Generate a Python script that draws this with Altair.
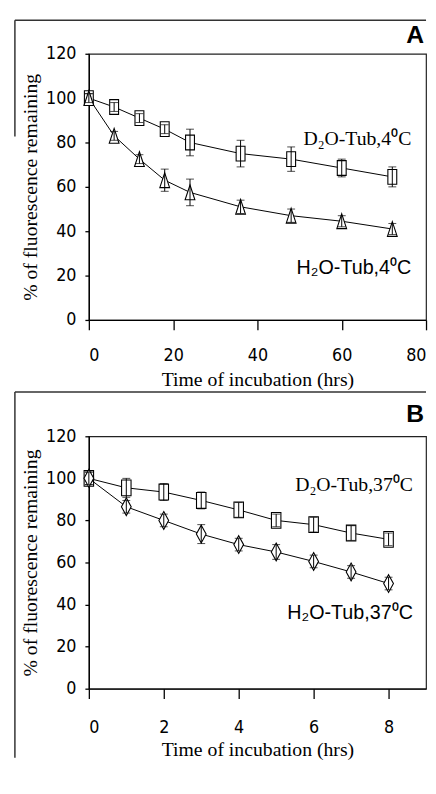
import altair as alt
import pandas as pd

# ---------------- data ----------------
a_time = [0, 6, 12, 18, 24, 36, 48, 60, 72]
a_d2o = [100, 96, 91, 86, 80, 75, 72.5, 68.5, 64.5]
a_d2o_err = [2, 2, 2, 2, 6, 6, 5.5, 4, 4.5]
a_h2o = [100, 83, 72.5, 63, 57.5, 51, 47, 44.5, 41]
a_h2o_err = [2, 2, 2, 5, 6, 3, 3, 2.5, 2.5]

b_time = [0, 1, 2, 3, 4, 5, 6, 7, 8]
b_d2o = [100, 95.5, 93.5, 89.5, 85, 80, 78, 74, 71]
b_d2o_err = [3, 4.5, 4, 4, 3.5, 3, 3.5, 3.5, 3]
b_h2o = [100, 86.5, 80, 73.5, 68.5, 65, 60.5, 55.5, 50]
b_h2o_err = [3, 3, 3, 4.5, 3, 3.5, 3, 3, 3]

y_ticks = [0, 20, 40, 60, 80, 100, 120]
a_x_ticks = [0, 20, 40, 60, 80]
b_x_ticks = [0, 2, 4, 6, 8]

a_label_serif = {"text": "D₂O-Tub,4⁰C", "t": 76.5, "v": 79}
a_label_sans = {"text": "H₂O-Tub,4⁰C", "t": 76.5, "v": 20.5}
b_label_serif = {"text": "D₂O-Tub,37⁰C", "t": 8.65, "v": 94}
b_label_sans = {"text": "H₂O-Tub,37⁰C", "t": 8.65, "v": 33}

SQUARE = "M-0.6,-1H0.6V1H-0.6Z"
TRIANGLE = "M0,-1L0.66,1L-0.66,1Z"
DIAMOND = "M0,-1L0.55,0L0,1L-0.55,0Z"

NARROW = "Liberation Sans Narrow, Arial Narrow, DejaVu Sans Condensed, Liberation Sans, sans-serif"
SERIF = "Liberation Serif, Times New Roman, serif"
SANS = "Liberation Sans, Arial, sans-serif"


def frame(t, v, e):
    return pd.DataFrame({
        "t": t, "v": v,
        "lo": [a - b for a, b in zip(v, e)],
        "hi": [a + b for a, b in zip(v, e)],
    })


def panel(t, d2o, d2o_e, h2o, h2o_e, xdom, xticks, w, h, lab_pad, title_pad,
          sq_size, h2o_shape, h2o_size, lab_serif, lab_sans, letter, letter_y,
          frame_top, frame_bottom, frame_right):
    xax = alt.Axis(values=xticks, title="Time of incubation (hrs)", tickSize=10,
                   labelPadding=lab_pad, titlePadding=title_pad,
                   labelFlush=True, labelFlushOffset=0,
                   labelFont=NARROW, labelFontSize=18, titleFont=SERIF,
                   titleFontSize=20, titleFontWeight="normal", format="d")
    yax = alt.Axis(values=y_ticks, title="% of fluorescence remaining", tickSize=4,
                   labelPadding=9, titlePadding=5, labelFont=NARROW,
                   labelFlush=False,
                   labelFontSize=18, titleFont=SERIF, titleFontSize=20,
                   titleFontWeight="normal", format="d")
    xs = alt.Scale(domain=xdom, nice=False, zero=False, padding=0)
    ys = alt.Scale(domain=[0, 120], nice=False, padding=0)

    layers = []
    for v, e, shape, size in [(d2o, d2o_e, SQUARE, sq_size), (h2o, h2o_e, h2o_shape, h2o_size)]:
        df = frame(t, v, e)
        base = alt.Chart(df)
        line = base.mark_line(color="black", strokeWidth=1).encode(
            x=alt.X("t:Q", scale=xs, axis=xax), y=alt.Y("v:Q", scale=ys, axis=yax))
        pts = base.mark_point(shape=shape, size=size, filled=True, fill="white",
                              stroke="black", strokeWidth=1.1, opacity=1).encode(
            x=alt.X("t:Q", scale=xs, axis=xax), y=alt.Y("v:Q", scale=ys, axis=yax))
        bar = base.mark_rule(color="black", strokeWidth=1).encode(
            x=alt.X("t:Q", scale=xs, axis=xax), y=alt.Y("lo:Q", scale=ys, axis=yax),
            y2="hi:Q")
        cap_lo = base.mark_tick(orient="horizontal", color="black", thickness=1,
                                size=8).encode(
            x=alt.X("t:Q", scale=xs, axis=xax), y=alt.Y("lo:Q", scale=ys, axis=yax))
        cap_hi = base.mark_tick(orient="horizontal", color="black", thickness=1,
                                size=8).encode(
            x=alt.X("t:Q", scale=xs, axis=xax), y=alt.Y("hi:Q", scale=ys, axis=yax))
        layers += [line, pts, bar, cap_lo, cap_hi]

    txt_serif = alt.Chart(pd.DataFrame([lab_serif])).mark_text(
        align="right", baseline="alphabetic", font=SERIF, fontSize=20,
        color="black").encode(x=alt.X("t:Q", scale=xs, axis=xax),
                              y=alt.Y("v:Q", scale=ys, axis=yax), text="text:N")
    txt_sans = alt.Chart(pd.DataFrame([lab_sans])).mark_text(
        align="right", baseline="alphabetic", font=SANS, fontSize=20,
        color="black").encode(x=alt.X("t:Q", scale=xs, axis=xax),
                              y=alt.Y("v:Q", scale=ys, axis=yax), text="text:N")

    # panel letter
    letter_txt = alt.Chart(pd.DataFrame({"text": [letter]})).mark_text(
        align="right", baseline="alphabetic", font=SANS, fontSize=25,
        fontWeight="bold", color="black").encode(
        x=alt.value(w - 2), y=alt.value(letter_y), text="text:N")

    # panel box (top edge and left edge)
    box_top = alt.Chart(pd.DataFrame({"k": [0]})).mark_rule(
        color="#333", strokeWidth=1.5).encode(
        x=alt.value(-75), x2=alt.value(frame_right), y=alt.value(frame_top))
    box_left = alt.Chart(pd.DataFrame({"k": [0]})).mark_rule(
        color="#333", strokeWidth=1.5).encode(
        x=alt.value(-75), y=alt.value(frame_top), y2=alt.value(frame_bottom))

    return alt.layer(*layers, txt_serif, txt_sans, letter_txt, box_top,
                     box_left).properties(width=w, height=h)


pa = panel(a_time, a_d2o, a_d2o_err, a_h2o, a_h2o_err, [0, 80], a_x_ticks, 342, 270,
           17, 5, 225, TRIANGLE, 225, a_label_serif, a_label_sans, "A", -11, -34, 84, 342)
pb = panel(b_time, b_d2o, b_d2o_err, b_h2o, b_h2o_err, [0, 9], b_x_ticks, 342, 256,
           20, 4, 256, DIAMOND, 324, b_label_serif, b_label_sans, "B", -14, -45, 326, 342)

chart = alt.vconcat(pa, pb, spacing=0).properties(
    padding={"left": 5, "top": 5, "right": 0, "bottom": 0}
).configure_view(stroke="#222", strokeWidth=1.2).configure_axis(
    domainColor="black", tickColor="black", labelColor="black", titleColor="black",
    grid=False, domainWidth=1.3, tickWidth=1.3
)

chart.save("out.html", embed_options={"renderer": "svg", "actions": False})
